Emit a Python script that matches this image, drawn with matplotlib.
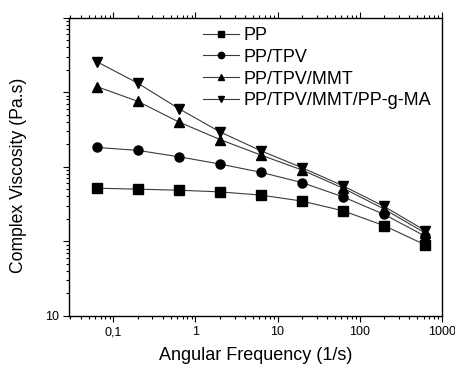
import numpy as np
import matplotlib
matplotlib.use('Agg')
from matplotlib import pyplot as plt
from matplotlib.ticker import FixedLocator, FixedFormatter, LogLocator, NullFormatter

# angular frequency (1/s)
freq = [0.0628, 0.199, 0.628, 1.99, 6.28, 19.9, 62.8, 199, 628]

# complex viscosity (Pa.s)
pp = [515, 500, 484, 460, 416, 346, 256, 162, 89.5]
pp_tpv = [1815, 1655, 1360, 1086, 841, 612, 394, 229, 117]
pp_tpv_mmt = [11900, 7520, 3980, 2315, 1432, 903, 515, 270, 129]
pp_tpv_mmt_ma = [25650, 13180, 6010, 2930, 1633, 970, 553, 293, 139]

labels = ['PP', 'PP/TPV', 'PP/TPV/MMT', 'PP/TPV/MMT/PP-g-MA']
markers = ['s', 'o', '^', 'v']
xtick_vals = [0.1, 1, 10, 100, 1000]
xtick_text = ['0,1', '1', '10', '100', '1000']

plt.rcParams['font.family'] = ['Liberation Sans', 'DejaVu Sans']

fig = plt.figure(figsize=(4.55, 3.66), dpi=100)
ax = fig.add_axes([0.152, 0.137, 0.819, 0.815])

for y, lab, m in zip([pp, pp_tpv, pp_tpv_mmt, pp_tpv_mmt_ma], labels, markers):
    ax.plot(freq, y, color='#3a3a3a', lw=0.8, marker=m, markersize=6.5,
            markerfacecolor='black', markeredgecolor='black', label=lab)

ax.set_xscale('log')
ax.set_yscale('log')
ax.set_xlim(0.029, 1000)
ax.set_ylim(10, 100000)

ax.xaxis.set_major_locator(FixedLocator(xtick_vals))
ax.xaxis.set_major_formatter(FixedFormatter(xtick_text))
ax.xaxis.set_minor_locator(LogLocator(base=10, subs=np.arange(2, 10), numticks=20))
ax.xaxis.set_minor_formatter(NullFormatter())

ax.yaxis.set_major_locator(FixedLocator([10, 100, 1000, 10000, 100000]))
ax.yaxis.set_major_formatter(FixedFormatter(['10', '', '', '', '']))
ax.yaxis.set_minor_locator(LogLocator(base=10, subs=np.arange(2, 10), numticks=20))
ax.yaxis.set_minor_formatter(NullFormatter())

ax.tick_params(axis='x', which='both', direction='out', top=True, bottom=True,
               labelsize=9)
ax.tick_params(axis='y', which='both', direction='out', left=True, right=False,
               labelsize=9)
ax.tick_params(which='major', length=4, width=0.8)
ax.tick_params(which='minor', length=2.5, width=0.8)
for s in ax.spines.values():
    s.set_linewidth(1.0)

ax.set_xlabel('Angular Frequency (1/s)', fontsize=13, labelpad=6)
ax.set_ylabel('Complex Viscosity (Pa.s)', fontsize=12.7)
ax.yaxis.set_label_coords(-0.113, 0.47)

ax.legend(loc='upper left', bbox_to_anchor=(0.36, 0.968), frameon=False,
          fontsize=13, handlelength=2.0, handletextpad=0.25, labelspacing=0.26,
          borderpad=0, borderaxespad=0, markerscale=0.7)

plt.savefig('out.png', dpi=100)
